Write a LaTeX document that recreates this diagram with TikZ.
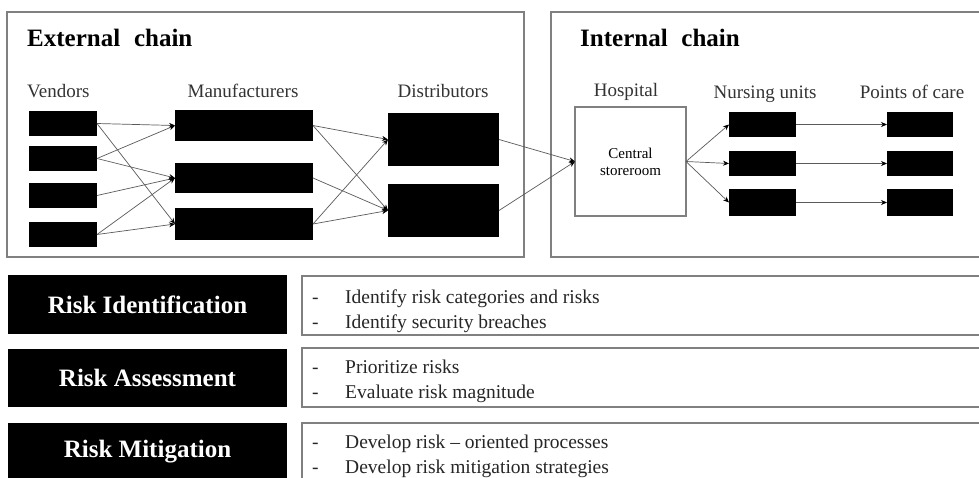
\documentclass[tikz,border=0pt]{standalone}
\usepackage{fontspec}
\setmainfont{Liberation Serif}
\usetikzlibrary{arrows.meta}
\definecolor{framegray}{RGB}{128,128,128}
\definecolor{linegray}{RGB}{90,90,90}
\tikzset{
  frame/.style={draw=framegray, line width=1.6pt},
  blk/.style={fill=black, draw=none, inner sep=0pt, outer sep=0pt},
  hosp/.style={draw=framegray, line width=1.3pt, fill=white, inner sep=0pt, outer sep=0pt, align=center, font=\fontsize{15}{18}\selectfont},
  lbl/.style={font=\fontsize{19}{22}\selectfont, inner sep=0pt, anchor=base, text=black!80},
  ttl/.style={font=\fontsize{25}{28}\selectfont\bfseries, inner sep=0pt, anchor=base west},
  risk/.style={fill=black, text=white, inner sep=0pt, outer sep=0pt, font=\fontsize{25}{28}\selectfont\bfseries},
  desc/.style={draw=framegray, line width=1.4pt, fill=white, inner sep=0pt, outer sep=0pt},
  btxt/.style={font=\fontsize{19.5}{22}\selectfont, inner sep=0pt, anchor=base west, text=black!85},
  conn/.style={draw=linegray, line width=0.7pt, -{Stealth[length=6pt,width=5pt,color=black]}}
}
\begin{document}
\begin{tikzpicture}[x=1pt,y=-1pt]
\useasboundingbox (0,0) rectangle (979,477);
\clip (0,0) rectangle (979,477);
\fill[white] (0,0) rectangle (979,477);
% chain frames
\draw[frame] (7,12) rectangle (524,257);
\draw[frame] (551,12) rectangle (995,257);
\node[ttl] (exttitle) at (27,46) {External\hspace{0.3em} chain};
\node[ttl] (inttitle) at (580,46) {Internal\hspace{0.3em} chain};
% labels
\node[lbl, anchor=base west] (lv) at (27,97) {Vendors};
\node[lbl] (lm) at (243,97) {Manufacturers};
\node[lbl] (ld) at (443,97) {Distributors};
\node[lbl] (lh) at (626,96) {Hospital};
\node[lbl] (ln) at (765,98) {Nursing units};
\node[lbl] (lp) at (912,98) {Points of care};
% vendors
\node[blk, minimum width=68pt, minimum height=25pt] (v1) at (63,123.5) {};
\node[blk, minimum width=68pt, minimum height=25pt] (v2) at (63,158.5) {};
\node[blk, minimum width=68pt, minimum height=25pt] (v3) at (63,195.5) {};
\node[blk, minimum width=68pt, minimum height=25pt] (v4) at (63,234.5) {};
% manufacturers
\node[blk, minimum width=138pt, minimum height=31pt] (m1) at (244,125.5) {};
\node[blk, minimum width=138pt, minimum height=30pt] (m2) at (244,178) {};
\node[blk, minimum width=138pt, minimum height=32pt] (m3) at (244,224) {};
% distributors
\node[blk, minimum width=111pt, minimum height=53pt] (d1) at (443.5,139.5) {};
\node[blk, minimum width=111pt, minimum height=53pt] (d2) at (443.5,210.5) {};
% hospital
\node[hosp, minimum width=111pt, minimum height=109pt] (h) at (630.5,161.5) {Central\\[-1pt]storeroom};
% nursing units
\node[blk, minimum width=67pt, minimum height=25pt] (n1) at (762.5,124.5) {};
\node[blk, minimum width=67pt, minimum height=25pt] (n2) at (762.5,163.5) {};
\node[blk, minimum width=67pt, minimum height=27pt] (n3) at (762.5,202.5) {};
% points of care
\node[blk, minimum width=66pt, minimum height=25pt] (p1) at (920,124.5) {};
\node[blk, minimum width=66pt, minimum height=25pt] (p2) at (920,163.5) {};
\node[blk, minimum width=66pt, minimum height=27pt] (p3) at (920,202.5) {};
% connectors external
\draw[conn] (v1.east) -- (m1.west);
\draw[conn] (v1.east) -- (m3.west);
\draw[conn] (v2.east) -- (m1.west);
\draw[conn] (v2.east) -- (m2.west);
\draw[conn] (v3.east) -- (m2.west);
\draw[conn] (v4.east) -- (m2.west);
\draw[conn] (v4.east) -- (m3.west);
\draw[conn] (m1.east) -- (d1.west);
\draw[conn] (m1.east) -- (d2.west);
\draw[conn] (m2.east) -- (d2.west);
\draw[conn] (m3.east) -- (d1.west);
\draw[conn] (m3.east) -- (d2.west);
\draw[conn] (d1.east) -- (h.west);
\draw[conn] (d2.east) -- (h.west);
% connectors internal
\draw[conn] (h.east) -- (n1.west);
\draw[conn] (h.east) -- (n2.west);
\draw[conn] (h.east) -- (n3.west);
\draw[conn] (n1.east) -- (p1.west);
\draw[conn] (n2.east) -- (p2.west);
\draw[conn] (n3.east) -- (p3.west);
% risk rows
\node[risk, minimum width=279pt, minimum height=59pt] (ri) at (147.5,304.5) {Risk Identification};
\node[risk, minimum width=279pt, minimum height=58pt] (ra) at (147.5,378) {Risk Assessment};
\node[risk, minimum width=279pt, minimum height=67pt] (rm) at (147.5,456.5) {};
\node[font=\fontsize{25}{28}\selectfont\bfseries, text=white, inner sep=0pt] (rmt) at (147.5,452) {Risk Mitigation};
\node[desc, minimum width=693pt, minimum height=59pt] (di) at (648.5,305.5) {};
\node[desc, minimum width=693pt, minimum height=59pt] (da) at (648.5,377.5) {};
\node[desc, minimum width=693pt, minimum height=67pt] (dm) at (648.5,456.5) {};
% bullet texts
\node[btxt] (b1a) at (312,303) {-};
\node[btxt] (t1a) at (345,303) {Identify risk categories and risks};
\node[btxt] (b1b) at (312,328) {-};
\node[btxt] (t1b) at (345,328) {Identify security breaches};
\node[btxt] (b2a) at (312,373) {-};
\node[btxt] (t2a) at (345,373) {Prioritize risks};
\node[btxt] (b2b) at (312,398) {-};
\node[btxt] (t2b) at (345,398) {Evaluate risk magnitude};
\node[btxt] (b3a) at (312,448) {-};
\node[btxt] (t3a) at (345,448) {Develop risk -- oriented processes};
\node[btxt] (b3b) at (312,473) {-};
\node[btxt] (t3b) at (345,473) {Develop risk mitigation strategies};
\end{tikzpicture}
\end{document}
